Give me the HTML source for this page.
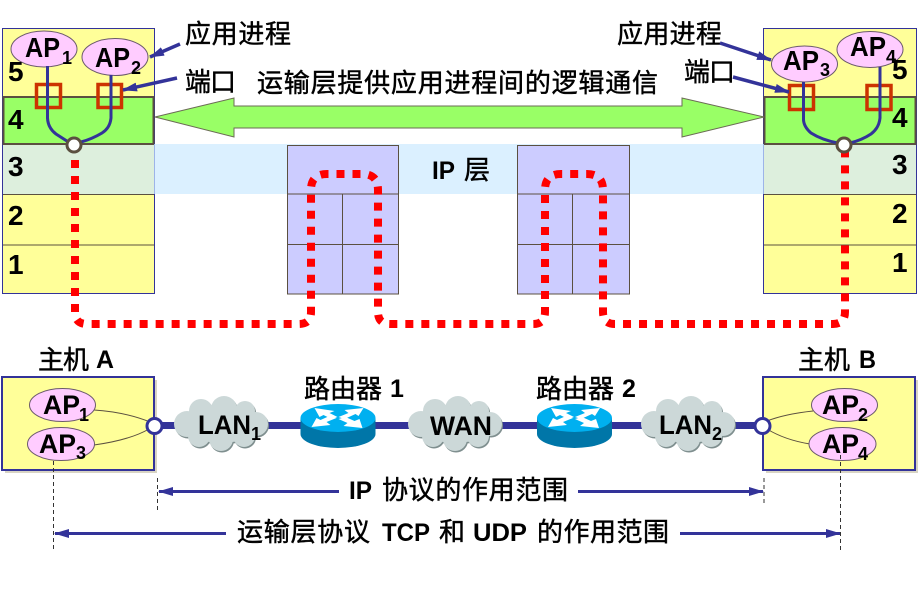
<!DOCTYPE html>
<html><head><meta charset="utf-8"><style>
html,body{margin:0;padding:0;background:#fff;width:923px;height:590px;overflow:hidden}
svg{display:block}
text{font-family:"Liberation Sans","Noto Sans CJK SC",sans-serif;fill:#000}
.b{font-weight:bold;font-size:27px}
.n{font-weight:bold;font-size:28px}
.c{font-size:26px;font-weight:400;stroke:#000;stroke-width:.45px}
.l{font-size:25px;font-weight:bold}
.s{font-weight:bold;font-size:18px}
</style></head><body>
<svg width="923" height="590" viewBox="0 0 923 590" xmlns="http://www.w3.org/2000/svg">
<defs>
<marker id="ah" markerWidth="16" markerHeight="10" refX="14" refY="4.500" orient="auto" markerUnits="userSpaceOnUse"><path d="M0 0L15 4.500L0 9Z" fill="#333399"/></marker>
<g id="cl">
<g fill="#7f8f8f" transform="translate(1,1.500)">
<ellipse cx="47" cy="28" rx="38" ry="19"/><circle cx="13" cy="28" r="13"/><circle cx="27" cy="15" r="12"/><circle cx="50" cy="13" r="13"/><circle cx="71" cy="15" r="10"/><circle cx="82" cy="28" r="12"/><circle cx="70" cy="40" r="11"/><circle cx="47" cy="43" r="12"/><circle cx="25" cy="40" r="11"/></g>
<g fill="#CCD8D8">
<ellipse cx="47" cy="28" rx="38" ry="19"/><circle cx="13" cy="28" r="13"/><circle cx="27" cy="15" r="12"/><circle cx="50" cy="13" r="13"/><circle cx="71" cy="15" r="10"/><circle cx="82" cy="28" r="12"/><circle cx="70" cy="40" r="11"/><circle cx="47" cy="43" r="12"/><circle cx="25" cy="40" r="11"/></g>
</g>
<g id="rt">
<path d="M0 0V16A37.500 14 0 0 0 75 16V0Z" fill="#0076A8"/>
<ellipse cx="37.500" cy="0" rx="37.500" ry="14" fill="#00B0F0"/>
<path d="M14-10L34-7L29-5L37-1L31 1L23-3L19-1Z" fill="#fff"/>
<path d="M63-10L44-8L48-5L38-1L44 1L55-4L58-2Z" fill="#fff"/>
<path d="M11 9L30 7L26 4L36 0L29-2L20 2L16 0Z" fill="#fff"/>
<path d="M62 10L43 8L47 5L38 1L45-1L54 3L59 1Z" fill="#fff"/>
</g>
</defs>

<!-- IP band -->
<rect x="155" y="144" width="609" height="50" fill="#DBF0FF"/>

<!-- left stack -->
<rect x="2.500" y="28.500" width="152" height="265" fill="#FFFF99" stroke="#333399" stroke-width="1"/>
<rect x="3" y="144" width="151" height="50" fill="#DDEFDD"/>
<rect x="3.500" y="97" width="150" height="47" fill="#99FF66" stroke="#5B5040" stroke-width="2"/>
<path d="M3 194.500H154M3 245H154" stroke="#5B5040" stroke-width="1"/>
<path d="M154.500 144V194" stroke="#9DB4E8" stroke-width="1"/>

<!-- right stack -->
<rect x="763.500" y="28.500" width="153" height="265" fill="#FFFF99" stroke="#333399" stroke-width="1"/>
<rect x="764" y="144" width="152" height="50" fill="#DDEFDD"/>
<rect x="764.500" y="97" width="151" height="47" fill="#99FF66" stroke="#5B5040" stroke-width="2"/>
<path d="M764 194.500H916M764 245H916" stroke="#5B5040" stroke-width="1"/>
<path d="M763.500 144V194" stroke="#9DB4E8" stroke-width="1"/>

<!-- routers -->
<g fill="#CCCCFF" stroke="#5B5040" stroke-width="1">
<rect x="287.500" y="145.500" width="111" height="148.500"/>
<path d="M287.500 194H398.500M287.500 244.500H398.500M342.500 194V294" fill="none"/>
<rect x="517.500" y="145.500" width="112" height="148.500"/>
<path d="M517.500 194H629.500M517.500 244.500H629.500M572.500 194V294" fill="none"/>
</g>

<!-- green arrow -->
<path d="M155 117L234 98V106H682V98L764 117L682 137V128H234V137Z" fill="#99FF66" stroke="#6b6b55" stroke-width="1"/>

<!-- red dotted path -->
<path d="M75 144V312Q75 324 87 324H299Q311 324 311 312V190Q311 174 327 174H362Q378 174 378 190V312Q378 324 390 324H533Q545 324 545 312V190Q545 174 561 174H587Q603 174 603 190V312Q603 324 615 324H833Q845 324 845 312V150" fill="none" stroke="#FF0000" stroke-width="8" stroke-dasharray="8 8"/>

<!-- ellipses top -->
<g fill="#FFCCFF" stroke="#6b5a6b" stroke-width="1">
<ellipse cx="44" cy="49" rx="33" ry="18"/>
<ellipse cx="115" cy="57" rx="33" ry="18.500"/>
<ellipse cx="804.500" cy="64" rx="33" ry="18"/>
<ellipse cx="870" cy="49.500" rx="33" ry="18"/>
</g>

<!-- port squares -->
<g fill="none" stroke="#CC3300" stroke-width="3.500">
<rect x="36.500" y="84.500" width="24" height="23"/>
<rect x="98" y="84.500" width="23.500" height="23"/>
<rect x="789.500" y="85.500" width="24" height="24"/>
<rect x="867" y="85.500" width="24" height="24"/>
</g>

<!-- process curves -->
<g fill="none" stroke="#333399" stroke-width="3">
<path d="M47.500 66V118Q48 128 56 134L70 143"/>
<path d="M111 75V118Q110 128 102 133Q92 139 81 142"/>
<path d="M803.500 82V120Q804 127 811 133Q822 140 838 143"/>
<path d="M880 67V118Q879 128 871 134Q862 140 850 143"/>
</g>
<g fill="#fff" stroke="#5B5040" stroke-width="3">
<circle cx="74" cy="145" r="7"/>
<circle cx="844" cy="145" r="7"/>
</g>

<!-- top labels -->
<text class="b" x="25" y="57" style="font-size:28px" textLength="35" lengthAdjust="spacingAndGlyphs">AP</text><text class="s" x="62" y="64">1</text>
<text class="b" x="95" y="67" style="font-size:28px" textLength="35" lengthAdjust="spacingAndGlyphs">AP</text><text class="s" x="131" y="74">2</text>
<text class="b" x="783" y="70" style="font-size:28px" textLength="36" lengthAdjust="spacingAndGlyphs">AP</text><text class="s" x="820" y="76">3</text>
<text class="b" x="850" y="56" style="font-size:28px" textLength="36" lengthAdjust="spacingAndGlyphs">AP</text><text class="s" x="886" y="63">4</text>

<text class="n" x="8" y="81">5</text><text class="n" x="8" y="129">4</text><text class="n" x="8" y="176">3</text><text class="n" x="8" y="225">2</text><text class="n" x="8" y="274">1</text>
<text class="n" x="892" y="79">5</text><text class="n" x="892" y="127">4</text><text class="n" x="892" y="174">3</text><text class="n" x="892" y="223">2</text><text class="n" x="892" y="272">1</text>

<text class="c" x="185" y="43" textLength="106">应用进程</text>
<text class="c" x="185" y="91" textLength="51">端口</text>
<text class="c" x="257" y="92" textLength="401">运输层提供应用进程间的逻辑通信</text>
<text class="c" x="617" y="43" textLength="105">应用进程</text>
<text class="c" x="684" y="81" textLength="51">端口</text>
<text class="l" x="432" y="179" textLength="23" lengthAdjust="spacingAndGlyphs">IP</text>
<text class="c" x="464" y="179">层</text>

<!-- label arrows -->
<g stroke="#333399" stroke-width="3.500" fill="none">
<path d="M180 44L150 57" marker-end="url(#ah)"/>
<path d="M177 78L123 90" marker-end="url(#ah)"/>
<path d="M720 43L771 60" marker-end="url(#ah)"/>
<path d="M733 77L789 92" marker-end="url(#ah)"/>
</g>

<!-- bottom network line -->
<path d="M160 425.500H760" stroke="#333399" stroke-width="7"/>

<!-- hosts -->
<rect x="5" y="380" width="152" height="93" fill="#d8d4c4"/>
<rect x="766" y="380" width="152" height="93" fill="#d8d4c4"/>
<rect x="2" y="377" width="152" height="93" fill="#FFFF99" stroke="#333399" stroke-width="2"/>
<rect x="763" y="377" width="152" height="93" fill="#FFFF99" stroke="#333399" stroke-width="2"/>

<g fill="none" stroke="#5B5040" stroke-width="1">
<path d="M94 410Q125 412 150 422"/>
<path d="M94 445Q130 440 149 429"/>
<path d="M813 411Q785 414 767 421"/>
<path d="M810 444Q785 440 767 429"/>
</g>
<g fill="#FFCCFF" stroke="#6b5a6b" stroke-width="1">
<ellipse cx="62.500" cy="405" rx="33" ry="16.500"/>
<ellipse cx="61" cy="444" rx="33.500" ry="16.500"/>
<ellipse cx="844.500" cy="405" rx="33" ry="16.500"/>
<ellipse cx="842.500" cy="444" rx="33.500" ry="16.500"/>
</g>
<g fill="#fff" stroke="#333399" stroke-width="3">
<circle cx="154.500" cy="426" r="7.500"/>
<circle cx="762.500" cy="426" r="7.500"/>
</g>

<use href="#cl" x="174" y="396"/>
<use href="#cl" x="408" y="396"/>
<use href="#cl" x="641" y="396"/>
<use href="#rt" x="300.500" y="418"/>
<use href="#rt" x="537" y="418"/>

<text class="b" x="43" y="414" textLength="37" lengthAdjust="spacingAndGlyphs">AP</text><text class="s" x="79" y="421">1</text>
<text class="b" x="39" y="453" textLength="37" lengthAdjust="spacingAndGlyphs">AP</text><text class="s" x="76" y="459">3</text>
<text class="b" x="822" y="414" textLength="37" lengthAdjust="spacingAndGlyphs">AP</text><text class="s" x="858" y="421">2</text>
<text class="b" x="822" y="453" textLength="37" lengthAdjust="spacingAndGlyphs">AP</text><text class="s" x="858" y="460">4</text>
<text class="b" x="198" y="434" textLength="53" lengthAdjust="spacingAndGlyphs">LAN</text><text class="s" x="251" y="440">1</text>
<text class="b" x="430" y="435" textLength="62" lengthAdjust="spacingAndGlyphs">WAN</text>
<text class="b" x="659" y="434" textLength="53" lengthAdjust="spacingAndGlyphs">LAN</text><text class="s" x="712" y="440">2</text>

<text class="c" x="38" y="369" textLength="51">主机</text><text class="l" x="96" y="368" textLength="18" lengthAdjust="spacingAndGlyphs">A</text>
<text class="c" x="798" y="369" textLength="52">主机</text><text class="l" x="859" y="368" textLength="17" lengthAdjust="spacingAndGlyphs">B</text>
<text class="c" x="304" y="398" textLength="78">路由器</text><text class="l" x="390" y="397">1</text>
<text class="c" x="536" y="398" textLength="78">路由器</text><text class="l" x="622" y="397">2</text>

<!-- range arrows -->
<g stroke="#333399" stroke-width="3" fill="none">
<path d="M339 491.500H159" marker-end="url(#ah)"/>
<path d="M578 491.500H763" marker-end="url(#ah)"/>
<path d="M226 533.500H55" marker-end="url(#ah)"/>
<path d="M680 533.500H840" marker-end="url(#ah)"/>
</g>
<g stroke="#333" stroke-width="1" stroke-dasharray="4 3" fill="none">
<path d="M157.500 478V510"/>
<path d="M53.500 461V551"/>
<path d="M764 478V503"/>
<path d="M840.500 455V550"/>
</g>

<text class="l" x="349" y="499" textLength="23" lengthAdjust="spacingAndGlyphs">IP</text>
<text class="c" x="382" y="499" textLength="186">协议的作用范围</text>
<text class="c" x="237" y="541" textLength="133">运输层协议</text>
<text class="l" x="382" y="541" textLength="48" lengthAdjust="spacingAndGlyphs">TCP</text>
<text class="c" x="439" y="541" textLength="26">和</text>
<text class="l" x="473" y="541" textLength="54" lengthAdjust="spacingAndGlyphs">UDP</text>
<text class="c" x="537" y="541" textLength="132">的作用范围</text>
</svg>
</body></html>
